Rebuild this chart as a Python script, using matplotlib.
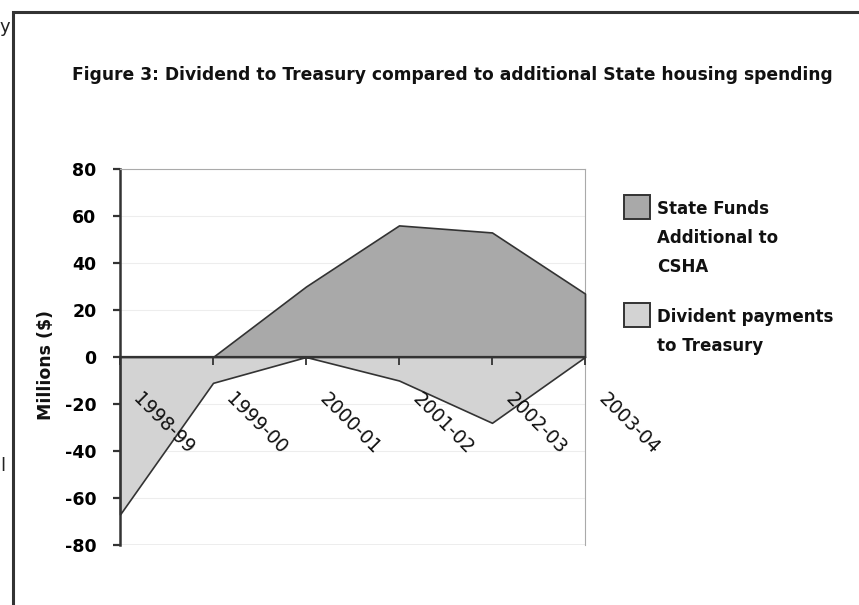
import matplotlib
matplotlib.use("Agg")
import matplotlib.pyplot as plt
import matplotlib.transforms as mtransforms
from matplotlib.patches import Rectangle

categories = ["1998-99", "1999-00", "2000-01", "2001-02", "2002-03", "2003-04"]
state_funds = [0, 0, 30, 56, 53, 27]
dividend = [-67, -11, 0, -10, -28, 0]
y_ticks = [80, 60, 40, 20, 0, -20, -40, -60, -80]

title = "Figure 3: Dividend to Treasury compared to additional State housing spending"
state_label = "State Funds\nAdditional to\nCSHA"
div_label = "Divident payments\nto Treasury"

W, H = 859, 605
state_color = "#a9a9a9"
div_color = "#d3d3d3"
edge = "#333333"

fig = plt.figure(figsize=(W / 100, H / 100), dpi=100)
fig.patch.set_facecolor("white")

def fx(px):
    return px / W

def fy(py):
    return 1 - py / H

# outer frame of the figure box
fig.patches.append(Rectangle((fx(13), -0.05), 1.1, fy(12) + 0.05,
                             transform=fig.transFigure, fill=False,
                             edgecolor=edge, linewidth=2.2))
# cut-off document text fragments at left edge
fig.text(0.0, fy(27), "y", fontsize=13, va="center", ha="left", color="#222222")
fig.text(0.0, fy(466), "l", fontsize=13, va="center", ha="left", color="#222222")

ax = fig.add_axes([fx(120), fy(545), fx(465), 376 / H])
x = list(range(len(categories)))

ax.fill_between(x, 0, state_funds, facecolor=state_color, edgecolor=edge,
                linewidth=1.2, zorder=1, clip_on=False)
ax.fill_between(x, 0, dividend, facecolor=div_color, edgecolor=edge,
                linewidth=1.2, zorder=1, clip_on=False)

ax.set_xlim(0, len(categories) - 1)
ax.set_ylim(-80, 80)
ax.set_yticks(y_ticks)
ax.set_yticklabels([str(v) for v in y_ticks], fontsize=12.5, fontweight="bold")
for v in y_ticks:
    if v != 0:
        ax.axhline(v, color="#ededed", linewidth=0.8, zorder=0)

ax.spines["bottom"].set_position(("data", 0))
ax.spines["bottom"].set_color(edge)
ax.spines["bottom"].set_linewidth(1.6)
ax.spines["left"].set_color(edge)
ax.spines["left"].set_linewidth(1.8)
ax.spines["top"].set_color("#aaaaaa")
ax.spines["right"].set_color("#aaaaaa")
ax.spines["right"].set_zorder(0.5)
ax.axhline(-80, color="#aaaaaa", linewidth=1.0, zorder=0.5)

ax.tick_params(axis="y", direction="out", length=5, width=1.6, color=edge, pad=12)
ax.tick_params(axis="x", direction="out", length=6, width=1.3, color=edge, pad=3)
ax.set_xticks(x)
ax.set_xticklabels(categories, rotation=-45, ha="left", va="top",
                   rotation_mode="anchor", fontsize=13.5, color="#111111")
offset = mtransforms.ScaledTranslation(23 / 100, -20 / 100, fig.dpi_scale_trans)
for lab in ax.get_xticklabels():
    lab.set_transform(lab.get_transform() + offset)
ax.xaxis.set_zorder(5)
ax.yaxis.set_zorder(5)

fig.text(fx(46), fy(365), "Millions ($)", rotation=90, fontsize=12.5,
         fontweight="bold", ha="center", va="center", color="#111111")

fig.text(fx(72), fy(75), title, fontsize=12.3, fontweight="bold",
         ha="left", va="center", color="#111111")

# legend
for (top, color, label) in [(195, state_color, state_label), (303, div_color, div_label)]:
    fig.patches.append(Rectangle((fx(624), fy(top + 24)), fx(26), 24 / H,
                                 transform=fig.transFigure, facecolor=color,
                                 edgecolor=edge, linewidth=1.4))
    fig.text(fx(657), fy(top + 5), label, fontsize=12, fontweight="bold",
             ha="left", va="top", linespacing=1.8, color="#111111")

fig.savefig("out.png", dpi=100)
